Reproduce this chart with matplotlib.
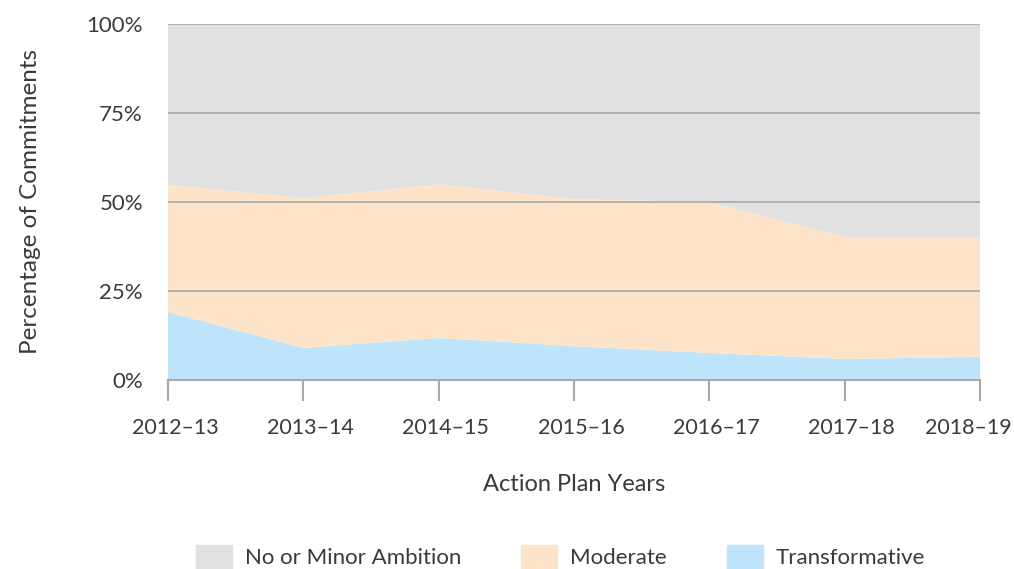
import matplotlib

matplotlib.use("Agg")
import matplotlib.pyplot as plt
from matplotlib.patches import Patch
from matplotlib.transforms import ScaledTranslation

plt.rcParams["font.family"] = ["Lato", "DejaVu Sans"]

years = ["2012–13", "2013–14", "2014–15", "2015–16", "2016–17", "2017–18", "2018–19"]
transformative = [19.1, 9.0, 11.8, 9.5, 7.6, 5.9, 6.5]
moderate = [35.7, 42.1, 43.2, 41.3, 42.4, 34.3, 33.4]
minor = [100 - t - m for t, m in zip(transformative, moderate)]

c_minor = "#e1e1e2"
c_mod = "#fde4c8"
c_trans = "#bde4fb"
grey = "#a8a8a8"
txt = "#3a3a3a"

fig = plt.figure(figsize=(10.14, 5.69), dpi=100)
ax = fig.add_axes([168 / 1014, 1 - 380 / 569, (980 - 168) / 1014, (380 - 24) / 569])

x = list(range(len(years)))
ax.stackplot(x, transformative, moderate, minor, colors=[c_trans, c_mod, c_minor], lw=0)

ax.set_xlim(0, len(years) - 1)
ax.set_ylim(0, 100)
ax.set_yticks([0, 25, 50, 75, 100])
ax.set_yticklabels(["0%", "25%", "50%", "75%", "100%"])
ax.set_xticks(x)
ax.set_xticklabels(years)
for y in [25, 50, 75, 100]:
    ax.axhline(y, color=grey, lw=1.2, zorder=3)
ax.axhline(0, color=grey, lw=1.5, zorder=3, clip_on=False)

for s in ax.spines.values():
    s.set_visible(False)
ax.tick_params(axis="y", length=0, pad=18, labelsize=16, labelcolor=txt)
ax.tick_params(axis="x", direction="out", length=15, width=1.5, color=grey,
               pad=12, labelsize=15.5, labelcolor=txt)

# nudge tick labels like the original layout; last one pulled in to fit
labels = ax.get_xticklabels()
for i, lab in enumerate(labels):
    dx = -12 if i == len(labels) - 1 else 7
    lab.set_transform(lab.get_transform() + ScaledTranslation(dx / 100, 0, fig.dpi_scale_trans))

ax.set_xlabel("Action Plan Years", fontsize=17, color=txt, labelpad=26)
ax.set_ylabel("Percentage of Commitments", fontsize=17.5, color=txt, labelpad=33)

handles = [Patch(color=c_minor, label="No or Minor Ambition"),
           Patch(color=c_mod, label="Moderate"),
           Patch(color=c_trans, label="Transformative")]
fig.legend(handles=handles, loc="lower center", bbox_to_anchor=(0.553, -0.035), ncol=3,
           frameon=False, fontsize=16, handlelength=1.6, handleheight=1.3,
           columnspacing=2.7, handletextpad=0.6, labelcolor=txt)

fig.savefig("out.png", dpi=100)
